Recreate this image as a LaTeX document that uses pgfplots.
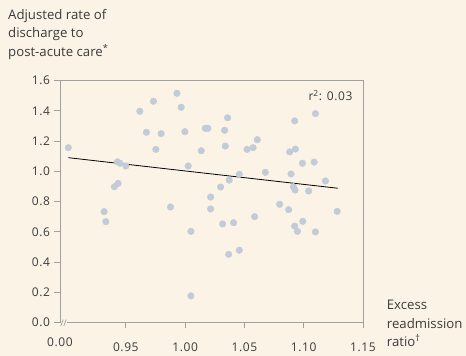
\documentclass[border=0pt]{standalone}
\usepackage{pgfplots}
\pgfplotsset{compat=1.18}
\usepackage{pgfplotstable}
\usepackage{fontspec}
\setmainfont{Open Sans}
\newfontfamily\tickfont[LetterSpace=5]{Open Sans}
\definecolor{bg}{RGB}{250,243,230}
\definecolor{dot}{RGB}{194,203,216}
\definecolor{axgray}{RGB}{160,160,160}
\definecolor{txt}{RGB}{60,60,60}
\pgfplotstableread{
x y
0.9015 1.157
0.9618 1.398
0.9733 1.464
0.9931 1.517
0.9967 1.424
0.9674 1.259
0.9798 1.250
0.9998 1.263
1.0170 1.285
1.0192 1.285
0.9753 1.146
1.0136 1.137
0.9429 1.064
0.9452 1.054
0.9500 1.036
1.0026 1.036
0.9404 0.899
0.9435 0.921
1.0358 1.355
1.0333 1.272
1.0339 1.168
1.0522 1.146
1.0573 1.157
1.0609 1.210
1.0924 1.334
1.1099 1.382
1.0882 1.129
1.0930 1.148
1.0989 1.054
1.1088 1.062
1.0676 0.994
1.0893 0.983
1.0457 0.981
1.0372 0.943
1.0299 0.897
1.0913 0.899
1.0927 0.877
1.1042 0.871
1.1183 0.937
1.0215 0.831
1.0215 0.752
0.9317 0.734
0.9331 0.668
0.9877 0.765
1.0049 0.604
1.0049 0.177
1.0316 0.653
1.0409 0.661
1.0586 0.701
1.0367 0.452
1.0457 0.479
1.0797 0.783
1.0873 0.747
1.0924 0.639
1.0947 0.604
1.0992 0.670
1.1099 0.600
1.1282 0.736
}\pts
\begin{document}
\begin{tikzpicture}
\fill[bg] (0,0) rectangle (466bp,356bp);
\begin{axis}[
  at={(60bp,33.3bp)}, anchor=south west,
  scale only axis, width=303bp, height=242bp,
  xmin=0.8945, xmax=1.15, ymin=0, ymax=1.6,
  axis line style={axgray, line width=0.9bp},
  tick style={axgray, line width=0.9bp},
  major tick length=5.5bp,
  tick align=outside,
  xtick pos=bottom, ytick pos=left,
  xtick={0.95,1.00,1.05,1.10,1.15},
  xticklabels={0.95,1.00,1.05,1.10,1.15},
  extra x ticks={0.8945},
  extra x tick labels={0.00},
  extra x tick style={major tick length=0pt},
  ytick={0,0.2,...,1.6},
  yticklabel={\pgfmathprintnumber[fixed,fixed zerofill,precision=1]{\tick}},
  /pgf/number format/assume math mode=true,
  every tick label/.append style={font=\tickfont\fontsize{12bp}{14bp}\selectfont, text=txt},
  xticklabel style={anchor=base, yshift=-23.5bp},
  yticklabel style={anchor=east, xshift=-1bp},
  clip=false,
]
\addplot[only marks, mark=*, mark size=3.3bp, mark options={fill=dot, draw=dot}] table[x=x,y=y] {\pts};
\addplot[black, line width=0.8bp] coordinates {(0.9015,1.091) (1.1287,0.889)};
\end{axis}
% axis break
\fill[bg] (60.6bp,31.5bp) rectangle (67bp,35bp);
\draw[axgray, line width=0.7bp] (60.8bp,30bp) -- (63.2bp,36.5bp);
\draw[axgray, line width=0.7bp] (63.8bp,30bp) -- (66.2bp,36.5bp);
\node[anchor=base east, text=txt, font=\tickfont\fontsize{12bp}{14bp}\selectfont, inner sep=0pt] at (352.7bp,255.3bp) {r\textsuperscript{2}: 0.03};
\begin{scope}[every node/.style={anchor=base west, inner sep=0pt, text=txt, font=\fontsize{13.2bp}{16bp}\selectfont}]
\node at (8bp,336.5bp) {Adjusted rate of};
\node at (8bp,318bp) {discharge to};
\node at (8bp,299.5bp) {post-acute care\textsuperscript{*}};
\node at (386.7bp,46.7bp) {Excess};
\node at (386.7bp,27.7bp) {readmission};
\node at (386.7bp,9.3bp) {ratio\textsuperscript{†}};
\end{scope}
\pgfresetboundingbox
\path[use as bounding box] (0,0) rectangle (466bp,356bp);
\end{tikzpicture}
\end{document}
